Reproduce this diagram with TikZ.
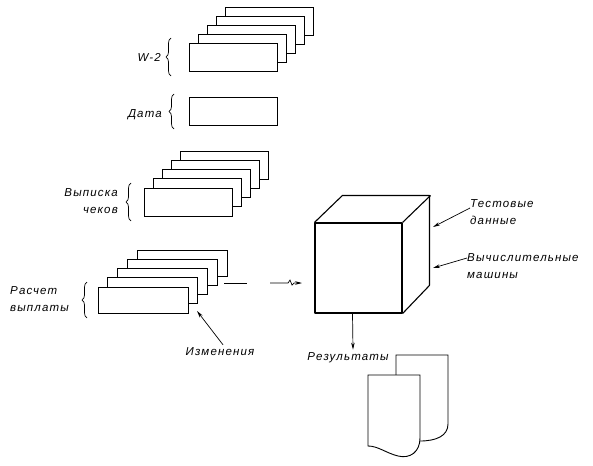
\documentclass[tikz,border=0pt]{standalone}
\usepackage{fontspec}
\setmainfont{Liberation Sans}
\newfontfamily\labfont[LetterSpace=10]{Liberation Sans}
\usetikzlibrary{arrows.meta,decorations.pathreplacing}

\tikzset{
  card/.style={draw, fill=white, line width=0.9pt, minimum width=88pt, minimum height=28pt, inner sep=0pt},
  lab/.style={font=\labfont\itshape\fontsize{11.5}{17}\selectfont, inner sep=0pt},
  curly/.style={decorate, decoration={brace, amplitude=5pt}, line width=0.7pt},
  arr/.style={-{Stealth[length=7pt,width=3.5pt]}, line width=0.7pt},
  box3d/.style={line width=1.1pt, line join=round},
}

\begin{document}
\begin{tikzpicture}[x=1pt,y=-1pt]
\useasboundingbox (0,0) rectangle (593,465);

% W-2 forms
\foreach \i in {4,...,0}
  \node[card] (w2-\i) at (233+9*\i,57-9*\i) {};
\draw[curly] (171,76) -- (171,38);
\node[lab, anchor=east] (w2lab) at (161,57) {W-2};

% data card
\node[card] (date) at (233,111) {};
\draw[curly] (174,129) -- (174,94);
\node[lab, anchor=east] (datelab) at (162,115) {Дата};

% check listing
\foreach \i in {4,...,0}
  \node[card] (chk-\i) at (188.5+9*\i,202-9.2*\i) {};
\draw[curly] (131,221) -- (131,183);
\node[lab, anchor=east, align=right] (chklab) at (118,201) {Выписка\\чеков\hspace{7pt}};

% payment calculation
\foreach \i in {4,...,0}
  \node[card, minimum width=90pt, minimum height=26pt] (pay-\i) at (143+9.75*\i,300-9.2*\i) {};
\draw[curly] (87,318) -- (87,282);
\node[lab, anchor=west, align=left] (paylab) at (10,299) {Расчет\\выплаты};

\coordinate (feed) at (224,283);
\draw[line width=0.7pt] (feed) -- ++(23,0);
\draw[arr] ([xshift=46pt]feed) -- ++(18,0) -- ++(2,-3) -- ++(2,5) -- ++(2,-2) -- ++(8,0);

% changes
\node[lab] (changes) at (220,352) {Изменения};
\coordinate (edit) at (197,311);
\draw[arr] ([xshift=3pt,yshift=3pt]changes.north) -- (edit);

% computer
\node[draw, box3d, minimum width=87pt, minimum height=90pt, inner sep=0pt] (computer) at (358.5,268) {};
\draw[box3d] (computer.north west) -- ++(28,-27) -- ++(87,0) -- ++(0,90) -- (computer.south east);
\draw[box3d] (computer.north east) -- ++(28,-27);

\node[lab, anchor=west, align=left] (testdata) at (470,212) {Тестовые\\данные};
\node[lab, anchor=west, align=left] (machines) at (467,266) {Вычислительные\\машины};
\coordinate (sideA) at (433,227);
\coordinate (sideB) at (433,268);
\draw[arr] ([yshift=4pt]testdata.west) -- (sideA);
\draw[arr] ([yshift=8pt]machines.west) -- (sideB);

% results
\node[lab] (results) at (348,358) {Результаты};
\draw[arr] ([xshift=-6pt]computer.south) -- ([xshift=5pt,yshift=3pt]results.north);

\draw[line width=0.9pt, fill=white] (396,441) -- (396,355) -- (448,355) -- (448,424)
  .. controls (448,436) and (436,441) .. (420,441) -- cycle;
\draw[line width=0.9pt, fill=white] (368,446) -- (368,375) -- (420,375) -- (420,438)
  .. controls (420,452) and (410,459) .. (398,456)
  .. controls (386,453) and (378,446) .. (368,446) -- cycle;
\end{tikzpicture}
\end{document}
